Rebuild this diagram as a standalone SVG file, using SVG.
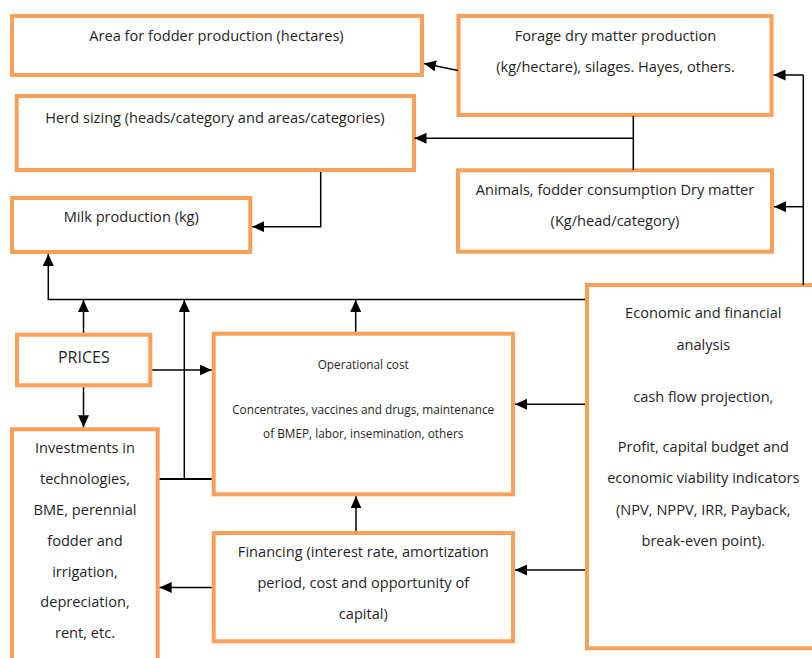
<svg xmlns="http://www.w3.org/2000/svg" width="812" height="658" viewBox="0 0 812 658">
<style>
.box{fill:#ffffff;stroke:#F9A05A;stroke-width:4}
.t{font-family:"Open Sans","Noto Sans","Liberation Sans",sans-serif;font-size:14.6px;fill:#1f1f1f;text-anchor:middle}
.s{font-size:11.8px}
.p{font-size:16px}
.c{fill:none;stroke:#000000;stroke-width:1.5}
</style>
<defs>
<marker id="ah" markerUnits="userSpaceOnUse" markerWidth="12" markerHeight="11" refX="12" refY="5.5" orient="auto">
<path d="M0,0 L12,5.5 L0,11 Z" fill="#000000"/>
</marker>
</defs>
<rect width="812" height="658" fill="#ffffff"/>
<g id="area">
<rect class="box" x="12" y="16" width="410" height="59"/>
<text class="t" x="216.5" y="41">Area for fodder production (hectares)</text>
</g>
<g id="forage">
<rect class="box" x="458.5" y="16" width="313" height="99"/>
<text class="t" x="615.5" y="41">Forage dry matter production</text>
<text class="t" x="615.5" y="71.5">(kg/hectare), silages. Hayes, others.</text>
</g>
<g id="herd">
<rect class="box" x="16.7" y="96" width="397.3" height="74"/>
<text class="t" x="215" y="123">Herd sizing (heads/category and areas/categories)</text>
</g>
<g id="animals">
<rect class="box" x="458" y="170.3" width="314" height="81.4"/>
<text class="t" x="615" y="195">Animals, fodder consumption Dry matter</text>
<text class="t" x="615" y="226">(Kg/head/category)</text>
</g>
<g id="milk">
<rect class="box" x="12" y="198" width="238.3" height="54"/>
<text class="t" x="131.3" y="222">Milk production (kg)</text>
</g>
<g id="prices">
<rect class="box" x="17" y="334.7" width="133.3" height="50.6"/>
<text class="t p" x="83.8" y="362.7">PRICES</text>
</g>
<g id="operational">
<rect class="box" x="213.7" y="333.7" width="299.3" height="160.6"/>
<text class="t s" x="363.2" y="369.3">Operational cost</text>
<text class="t s" x="363.2" y="414.3">Concentrates, vaccines and drugs, maintenance</text>
<text class="t s" x="363.2" y="438.3">of BMEP, labor, insemination, others</text>
</g>
<g id="investments">
<rect class="box" x="12" y="429.3" width="145.7" height="240"/>
<text class="t" x="85" y="453.3">Investments in</text>
<text class="t" x="85" y="484.2">technologies,</text>
<text class="t" x="85" y="515">BME, perennial</text>
<text class="t" x="85" y="546">fodder and</text>
<text class="t" x="85" y="576.7">irrigation,</text>
<text class="t" x="85" y="607.3">depreciation,</text>
<text class="t" x="85" y="637.8">rent, etc.</text>
</g>
<g id="financing">
<rect class="box" x="213.7" y="533" width="299.3" height="108.3"/>
<text class="t" x="363.3" y="557.3">Financing (interest rate, amortization</text>
<text class="t" x="363.3" y="588.3">period, cost and opportunity of</text>
<text class="t" x="363.3" y="619.3">capital)</text>
</g>
<g id="economic">
<rect class="box" x="587" y="285" width="240" height="363.3"/>
<text class="t" x="703.3" y="318.3">Economic and financial</text>
<text class="t" x="703.3" y="350">analysis</text>
<text class="t" x="703.3" y="401.7">cash flow projection,</text>
<text class="t" x="703.3" y="451.7">Profit, capital budget and</text>
<text class="t" x="703.3" y="483.3">economic viability indicators</text>
<text class="t" x="703.3" y="515">(NPV, NPPV, IRR, Payback,</text>
<text class="t" x="703.3" y="545.5">break-even point).</text>
</g>
<g id="connectors">
<path class="c" d="M458,70.5 L424,63.5" marker-end="url(#ah)"/>
<path class="c" d="M633.3,116 V170"/>
<path class="c" d="M633.3,138.3 H414.5" marker-end="url(#ah)"/>
<path class="c" d="M320.7,172 V226.7 H252.3" marker-end="url(#ah)"/>
<path class="c" d="M803.3,285 V75"/>
<path class="c" d="M803.3,75 H773.5" marker-end="url(#ah)"/>
<path class="c" d="M803.3,206.7 H774" marker-end="url(#ah)"/>
<path class="c" d="M585,299.5 H48.3 V254" marker-end="url(#ah)"/>
<path class="c" d="M83.5,332.7 V300" marker-end="url(#ah)"/>
<path class="c" d="M159.7,479 H211.7" style="stroke-width:2"/>
<path class="c" d="M184.3,479 V300" marker-end="url(#ah)"/>
<path class="c" d="M355.7,331.7 V300" marker-end="url(#ah)"/>
<path class="c" d="M152.3,370 H211.7" marker-end="url(#ah)"/>
<path class="c" d="M83.5,387.3 V427.3" marker-end="url(#ah)"/>
<path class="c" d="M585,404.3 H515" marker-end="url(#ah)"/>
<path class="c" d="M585,570 H515" marker-end="url(#ah)"/>
<path class="c" d="M356,531 V496.3" marker-end="url(#ah)"/>
<path class="c" d="M211.7,587.5 H159.7" marker-end="url(#ah)"/>
</g>
</svg>
